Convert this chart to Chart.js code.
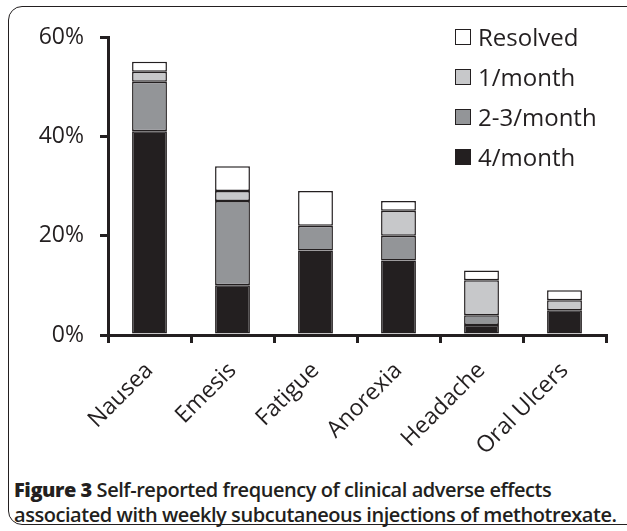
<!DOCTYPE html>
<html><head><meta charset="utf-8">
<script src="https://cdn.jsdelivr.net/npm/chart.js@4"></script>
<style>
html,body{margin:0;padding:0;background:#fff;width:627px;height:531px;overflow:hidden;}
#frame{position:absolute;left:8px;top:6px;width:640px;height:519px;border:1.5px solid #231f20;border-radius:14px;box-sizing:border-box;}
#wrap{position:absolute;left:0;top:0;width:627px;height:470px;}
#legend{position:absolute;left:455px;top:17px;font-family:"Open Sans",sans-serif;font-size:24px;color:#231f20;}
#legend div{height:40px;line-height:30px;display:flex;align-items:center;}
#legend span.box{display:inline-block;width:16px;height:16px;border:1.5px solid #231f20;box-sizing:border-box;margin-right:7px;}
#caption{position:absolute;left:14px;top:477px;font-family:"Open Sans",sans-serif;font-size:20px;font-weight:600;line-height:25px;color:#231f20;letter-spacing:-0.45px;}
#caption b{font-weight:800;}
</style></head><body>
<div id="frame"></div>
<div id="wrap"><canvas id="c" width="627" height="470"></canvas></div>
<div id="legend"></div>
<div id="caption"><b>Figure 3</b> Self-reported frequency of clinical adverse effects<br>associated with weekly subcutaneous injections of methotrexate.</div>
<script>
const categories = ["Nausea","Emesis","Fatigue","Anorexia","Headache","Oral Ulcers"];
const fourPerMonth = [41,10,17,15,2,5];
const twoThreePerMonth = [10,17,5,5,2,0];
const onePerMonth = [2,2,0,5,7,2];
const resolved = [2,5,7,2,2,2];
const yTicks = [0,20,40,60];
const seriesNames = ["4/month","2-3/month","1/month","Resolved"];
const seriesColors = ["#231f20","#939598","#c7c8ca","#ffffff"];
const seriesData = [fourPerMonth,twoThreePerMonth,onePerMonth,resolved];

const ink = "#231f20";
const datasets = seriesData.map((d,i)=>({
  label: seriesNames[i], data: d, backgroundColor: seriesColors[i],
  borderColor: ink, borderWidth: 1.5, borderSkipped: false,
  categoryPercentage: 1.0, barPercentage: 0.42
}));

// legend (reverse order as in the reference)
const leg = document.getElementById('legend');
for (let i = seriesNames.length-1; i >= 0; i--) {
  const row = document.createElement('div');
  row.innerHTML = '<span class="box" style="background:'+seriesColors[i]+'"></span>'+seriesNames[i];
  leg.appendChild(row);
}

new Chart(document.getElementById('c'), {
  type: 'bar',
  data: { labels: categories, datasets: datasets },
  options: {
    responsive: false, animation: false,
    layout: { padding: { top: 37, right: 21, left: 0, bottom: 0 } },
    plugins: { legend: { display: false }, tooltip: { enabled: false } },
    scales: {
      x: {
        stacked: true,
        grid: { display: true, drawOnChartArea: false, offset: true, tickLength: 8, color: ink, lineWidth: 3 },
        border: { display: true, color: ink, width: 3 },
        ticks: { color: ink, font: { family: "Open Sans", size: 23 }, minRotation: 45, maxRotation: 45, padding: 14 },
        afterFit: s => { s.height = 135; }
      },
      y: {
        stacked: true, min: 0, max: 60,
        afterBuildTicks: s => { s.ticks = yTicks.map(v=>({value:v})); },
        grid: { display: true, drawOnChartArea: false, tickLength: 8, color: ink, lineWidth: 3 },
        border: { display: true, color: ink, width: 3 },
        ticks: { color: ink, font: { family: "Open Sans", size: 23 }, padding: 16, callback: v => v + "%" },
        afterFit: s => { s.width = 108; }
      }
    }
  }
});
</script>
</body></html>
